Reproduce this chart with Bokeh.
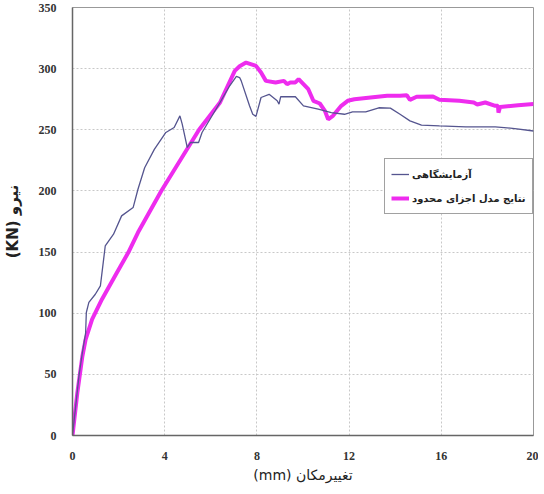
from bokeh.plotting import figure
from bokeh.models import Legend, LegendItem, FixedTicker, Range1d
from bokeh.embed import file_html
from bokeh.resources import INLINE

# Experimental (آزمایشگاهی)
exp_x = [0, 0.28, 0.43, 0.57, 0.6, 0.71, 0.99, 1.21, 1.35, 1.42, 1.78, 2.13, 2.63, 2.84, 3.13, 3.55,
         4.05, 4.41, 4.66, 4.76, 4.98, 5.12, 5.47, 5.62, 6.4, 6.82, 7.11, 7.25, 7.32, 7.68, 7.82, 7.96,
         8.18, 8.53, 8.88, 8.96, 9.03, 9.67, 10.02, 10.66, 11.23, 11.8, 12.15, 12.72, 13.29, 13.79,
         14.21, 14.64, 15.14, 15.92, 17.06, 18.34, 19.19, 20.0]
exp_y = [0, 48.8, 68, 84, 100.6, 108.8, 115.5, 122.4, 144, 155, 164.6, 179.6, 186.4, 201.4, 219, 234,
         247.8, 251.9, 261.4, 254.6, 235.5, 239.6, 239.6, 247.8, 272.3, 286, 293.6, 292.7, 290, 269.6,
         262.7, 261, 276.4, 279, 273.7, 271, 277, 277, 269.6, 266.8, 264.1, 262.7, 264.7, 264.7, 268,
         267.7, 262.7, 257.3, 253.8, 253.2, 252.4, 252.4, 251, 249]

# Finite element model (نتایج مدل اجزای محدود)
fem_x = [0, 0.21, 0.43, 0.57, 0.85, 1.28, 1.85, 2.42, 2.84, 3.85, 5.49, 6.4, 7.04, 7.25, 7.53, 7.96,
         8.18, 8.39, 8.81, 9.17, 9.31, 9.45, 9.67, 9.81, 10.02, 10.23, 10.45, 10.73, 10.95, 11.09,
         11.3, 11.66, 11.94, 12.23, 12.93, 13.65, 14.21, 14.5, 14.64, 14.93, 15.64, 15.92, 16.78,
         17.41, 17.56, 17.91, 18.34, 18.46, 18.48, 18.55, 19.33, 20.0]
fem_y = [0, 35, 65, 78.7, 95, 111.5, 130.6, 149.6, 166, 200, 250, 272.3, 298.2, 302, 305, 302.3,
         296.8, 290, 288.7, 290, 287.3, 288.7, 288.7, 291.4, 287.3, 283.2, 273.7, 271.5, 265.5, 258.6,
         261.4, 269.6, 273.7, 275, 276.4, 277.8, 277.8, 278.3, 274.5, 277, 277.2, 274.5, 273.7,
         272.3, 270.7, 272.3, 269.6, 269.6, 264, 268.7, 270, 271]

x_ticks = [0, 4, 8, 12, 16, 20]
y_ticks = [0, 50, 100, 150, 200, 250, 300, 350]

label_exp = "آزمایشگاهی"
label_fem = "نتایج مدل اجزای محدود"
x_title = "(mm) تغییرمکان"
y_title = "(KN) نیرو"

p = figure(width=528, height=478, frame_width=461, frame_height=428,
           x_range=Range1d(0, 20), y_range=Range1d(0, 350),
           output_backend="svg", toolbar_location=None,
           min_border_left=62, min_border_right=5, min_border_top=7, min_border_bottom=43)

p.background_fill_color = "white"
p.border_fill_color = "white"
p.outline_line_color = "#999999"
p.outline_line_width = 1

for ax in (p.xaxis[0], p.yaxis[0]):
    ax.major_tick_line_color = None
    ax.minor_tick_line_color = None
    ax.axis_line_color = "#666666"
    ax.axis_line_width = 1.5
    ax.major_label_text_font = "Liberation Serif"
    ax.major_label_text_font_style = "bold"
    ax.major_label_text_font_size = "12px"
    ax.major_label_text_color = "#333333"
    ax.major_label_standoff = 10

p.xaxis.ticker = FixedTicker(ticks=x_ticks)
p.yaxis.ticker = FixedTicker(ticks=y_ticks)

p.xaxis.axis_label = x_title
p.xaxis.axis_label_text_font = "DejaVu Sans"
p.xaxis.axis_label_text_font_style = "normal"
p.xaxis.axis_label_text_font_size = "14px"
p.xaxis.axis_label_text_color = "#222222"
p.xaxis.axis_label_standoff = 4

p.yaxis.axis_label = y_title
p.yaxis.axis_label_text_font = "DejaVu Sans"
p.yaxis.axis_label_text_font_style = "bold"
p.yaxis.axis_label_text_font_size = "15px"
p.yaxis.axis_label_text_color = "#222222"
p.yaxis.axis_label_standoff = 14

p.xgrid.ticker = FixedTicker(ticks=x_ticks)
p.ygrid.ticker = FixedTicker(ticks=y_ticks)
for g in (p.xgrid[0], p.ygrid[0]):
    g.grid_line_color = "#c8c8c8"
    g.grid_line_dash = "2 2"
    g.grid_line_width = 1

r_fem = p.line(fem_x, fem_y, line_color="#ee2cee", line_width=4)
r_exp = p.line(exp_x, exp_y, line_color="#55558f", line_width=1.3)

legend = Legend(items=[LegendItem(label=label_exp, renderers=[r_exp]),
                       LegendItem(label=label_fem, renderers=[r_fem])],
                location=(312, 221))
legend.label_text_font = "DejaVu Sans"
legend.label_text_font_style = "bold"
legend.label_text_font_size = "10px"
legend.label_text_color = "#222222"
legend.border_line_color = "#444444"
legend.border_line_width = 1
legend.background_fill_alpha = 1
legend.glyph_width = 18
legend.glyph_height = 18
legend.spacing = 6
legend.padding = 6
legend.margin = 0
legend.label_standoff = 3
p.add_layout(legend, "center")

open("out.html", "w").write(file_html(p, INLINE))
